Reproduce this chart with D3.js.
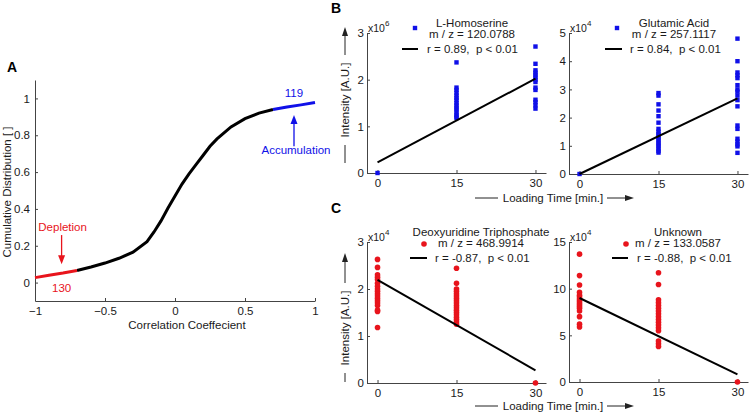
<!DOCTYPE html>
<html><head><meta charset="utf-8">
<script src="https://cdn.jsdelivr.net/npm/d3@7"></script>
<style>
body{margin:0;background:#fff;}
svg{display:block;font-family:"Liberation Sans",Arial,sans-serif;}
text{white-space:pre;}
</style></head>
<body><svg id="c" width="750" height="413"></svg>
<script>
// ---------- Panel A data ----------
const cdfX = [-1, -0.9, -0.8, -0.7, -0.6, -0.5, -0.4, -0.3, -0.2, -0.15, -0.1, -0.05, 0, 0.05, 0.1, 0.15, 0.2, 0.25, 0.3, 0.4, 0.5, 0.6, 0.7, 0.8, 0.9, 1.0];
const cdfY = [0.027, 0.04, 0.052, 0.066, 0.085, 0.106, 0.132, 0.165, 0.222, 0.275, 0.335, 0.405, 0.47, 0.535, 0.59, 0.64, 0.69, 0.74, 0.78, 0.845, 0.89, 0.92, 0.94, 0.953, 0.965, 0.978];
const depletionCut = -0.7, accumulationCut = 0.7;
const xTicksA = [-1, -0.5, 0, 0.5, 1];
const yTicksA = [0, 0.2, 0.4, 0.6, 0.8, 1];
const depletionCount = "130", accumulationCount = "119";

// ---------- Panels B/C data ----------
const timeTicks = [0, 15, 30];
const homoserineT15 = [2.37, 1.83, 1.78, 1.72, 1.66, 1.61, 1.56, 1.50, 1.45, 1.40, 1.36, 1.30, 1.25, 1.21, 1.18];
const homoserineT30 = [2.71, 2.34, 2.20, 2.15, 2.10, 2.05, 2.00, 1.95, 1.83, 1.78, 1.57, 1.52, 1.45, 1.38];
const homoserineT0 = [0];
const homoserineFit = [0.23, 2.02];

const glutamicT0 = [0];
const glutamicT15 = [2.87, 2.78, 2.47, 2.25, 2.05, 1.82, 1.60, 1.50, 1.42, 1.35, 1.28, 1.20, 1.12, 1.05, 0.98, 0.90, 0.82, 0.76];
const glutamicT30 = [4.80, 4.00, 3.60, 3.50, 3.40, 3.15, 3.00, 2.92, 2.78, 2.62, 2.40, 1.72, 1.60, 1.25, 1.15, 1.05, 0.98, 0.75];
const glutamicFit = [0, 2.68];

const dutpT0 = [2.63, 2.46, 2.30, 2.25, 2.20, 2.12, 2.06, 2.00, 1.95, 1.90, 1.85, 1.80, 1.75, 1.70, 1.65, 1.55, 1.52, 1.18];
const dutpT15 = [2.44, 2.12, 2.00, 1.95, 1.90, 1.85, 1.80, 1.75, 1.70, 1.65, 1.60, 1.55, 1.50, 1.45, 1.40, 1.35, 1.30, 1.25];
const dutpT30 = [0];
const dutpFit = [2.195, 0.27];

const unknownT0 = [13.7, 11.4, 10.4, 9.6, 9.3, 9.1, 8.9, 8.7, 8.5, 8.3, 8.1, 7.9, 7.6, 7.0, 6.2, 5.9];
const unknownT15 = [11.7, 10.45, 8.8, 8.5, 8.2, 7.9, 7.6, 7.3, 7.0, 6.7, 6.4, 6.1, 5.8, 5.5, 4.4, 4.1, 3.8];
const unknownT30 = [0];
const unknownFit = [9.0, 0.82];

const names = ["L-Homoserine", "Glutamic Acid", "Deoxyuridine Triphosphate", "Unknown"];
const mzLabels = ["m / z = 120.0788", "m / z = 257.1117", "m / z = 468.9914", "m / z = 133.0587"];
const statLabels = ["r = 0.89,  p < 0.01", "r = 0.84,  p < 0.01", "r = -0.87,  p < 0.01", "r = -0.88,  p < 0.01"];
const exponents = ["6", "4", "4", "4"];
const yMaxes = [3, 5, 3, 15];
const yTickSets = [[0,1,2,3],[0,1,2,3,4,5],[0,1,2,3],[0,5,10,15]];

const BLUE = "#1010e8", RED = "#e8141c", AXC = "#444";
const FS = 11.5;
const svg = d3.select("#c");

function styleAxis(g){
  g.selectAll(".domain").attr("stroke", AXC).attr("stroke-width",1);
  g.selectAll(".tick line").attr("stroke", AXC);
  g.selectAll(".tick text").attr("fill","#1a1a1a").style("font-size",FS+"px").style("font-family","Liberation Sans, Arial, sans-serif");
}
function arrowHead(g, x, y, dir, color, len=9, half=3.5){
  let pts;
  if(dir==="up") pts=[[x,y],[x-half,y+len],[x+half,y+len]];
  else if(dir==="down") pts=[[x,y],[x-half,y-len],[x+half,y-len]];
  else pts=[[x,y],[x-len,y-half],[x-len,y+half]];
  g.append("polygon").attr("points",pts.map(p=>p.join(",")).join(" ")).attr("fill",color);
}

// ---------- Panel A ----------
(function(){
  const L=35, R=315, T=80, B=301;
  const x=d3.scaleLinear().domain([-1,1]).range([L,R]);
  const y=d3.scaleLinear().domain([-0.1,1.1]).range([B,T]);
  const g=svg.append("g");
  g.append("g").attr("transform",`translate(0,${B})`)
    .call(d3.axisBottom(x).tickValues(xTicksA).tickFormat(d=>d===0?"0":String(d).replace("-","\u2212")).tickSizeInner(-3).tickSizeOuter(0).tickPadding(6))
    .call(styleAxis);
  g.append("g").attr("transform",`translate(${L},0)`)
    .call(d3.axisLeft(y).tickValues(yTicksA).tickFormat(d=>String(d)).tickSizeInner(-3).tickSizeOuter(0).tickPadding(5))
    .call(styleAxis);
  const pts=cdfX.map((v,i)=>[v,cdfY[i]]);
  const line=d3.line().x(d=>x(d[0])).y(d=>y(d[1]));
  const seg=(a,b)=>pts.filter(p=>p[0]>=a-1e-9&&p[0]<=b+1e-9);
  g.append("path").attr("d",line(seg(depletionCut,accumulationCut))).attr("fill","none").attr("stroke","#000").attr("stroke-width",3);
  g.append("path").attr("d",line(seg(-1,depletionCut))).attr("fill","none").attr("stroke",RED).attr("stroke-width",3);
  g.append("path").attr("d",line(seg(accumulationCut,1))).attr("fill","none").attr("stroke",BLUE).attr("stroke-width",3);
  const dx=x(-0.81);
  g.append("text").attr("x",dx+1).attr("y",y(0.3)+4).attr("text-anchor","middle").attr("fill",RED).style("font-size",FS+"px").text("Depletion");
  g.append("line").attr("x1",dx).attr("x2",dx).attr("y1",y(0.258)).attr("y2",y(0.12)).attr("stroke",RED).attr("stroke-width",1.3);
  arrowHead(g,dx,y(0.1),"down",RED);
  g.append("text").attr("x",dx).attr("y",y(-0.03)+4).attr("text-anchor","middle").attr("fill",RED).style("font-size",FS+"px").text(depletionCount);
  const ax=x(0.85);
  g.append("text").attr("x",ax).attr("y",y(1.03)+4).attr("text-anchor","middle").attr("fill",BLUE).style("font-size",FS+"px").text(accumulationCount);
  g.append("line").attr("x1",ax).attr("x2",ax).attr("y1",y(0.74)).attr("y2",y(0.89)).attr("stroke",BLUE).attr("stroke-width",1.3);
  arrowHead(g,ax,y(0.91),"up",BLUE);
  g.append("text").attr("x",ax+2).attr("y",y(0.72)+4).attr("text-anchor","middle").attr("fill",BLUE).style("font-size",FS+"px").text("Accumulation");
  g.append("text").attr("x",187).attr("y",329).attr("text-anchor","middle").attr("fill","#1a1a1a").style("font-size",FS+"px").text("Correlation Coeffecient");
  g.append("text").attr("transform","translate(11,192) rotate(-90)").attr("text-anchor","middle").attr("fill","#1a1a1a").style("font-size",FS+"px").text("Cumulative Distribution [ ]");
  g.append("text").attr("x",7).attr("y",72).attr("font-weight","bold").style("font-size","14px").text("A");
})();

// ---------- Panels B / C ----------
const subplots = [
  {left:367, top:33, bottom:173, t0:homoserineT0, t15:homoserineT15, t30:homoserineT30, fit:homoserineFit, color:BLUE, sym:"square",
   leg:{title:105, mark:48, line:[35,51], stat:60}},
  {left:569, top:33, bottom:174, t0:glutamicT0, t15:glutamicT15, t30:glutamicT30, fit:glutamicFit, color:BLUE, sym:"square",
   leg:{title:105, mark:48, line:[36,53], stat:61}},
  {left:367, top:242, bottom:383, t0:dutpT0, t15:dutpT15, t30:dutpT30, fit:dutpFit, color:RED, sym:"circle",
   leg:{title:114, mark:57, line:[43,60], stat:68}},
  {left:569, top:242, bottom:382, t0:unknownT0, t15:unknownT15, t30:unknownT30, fit:unknownFit, color:RED, sym:"circle",
   leg:{title:109, mark:57, line:[43,59], stat:68}}
];
subplots.forEach((s,i)=>{
  const W=179;
  const x=d3.scaleLinear().domain([-2,32]).range([s.left,s.left+W]);
  const y=d3.scaleLinear().domain([0,yMaxes[i]]).range([s.bottom,s.top]);
  const g=svg.append("g");
  g.append("g").attr("transform",`translate(0,${s.bottom})`)
    .call(d3.axisBottom(x).tickValues(timeTicks).tickFormat(d3.format("d")).tickSizeInner(-3).tickSizeOuter(0).tickPadding(6))
    .call(styleAxis);
  g.append("g").attr("transform",`translate(${s.left},0)`)
    .call(d3.axisLeft(y).tickValues(yTickSets[i]).tickFormat(d3.format("d")).tickSizeInner(-3).tickSizeOuter(0).tickPadding(3))
    .call(styleAxis);
  const et=g.append("text").attr("x",s.left+1).attr("y",s.top-1).attr("fill","#1a1a1a").style("font-size","10.5px");
  et.append("tspan").text("x10");
  et.append("tspan").attr("dy",-6).style("font-size","8px").text(exponents[i]);
  const pts=[].concat(s.t0.map(v=>[0,v]), s.t15.map(v=>[15,v]), s.t30.map(v=>[30,v]));
  if(s.sym==="square"){
    g.selectAll("rect.pt").data(pts).join("rect").attr("x",d=>x(d[0])-2.2).attr("y",d=>y(d[1])-2.2).attr("width",4.4).attr("height",4.4).attr("fill",s.color);
  } else {
    g.selectAll("circle.pt").data(pts).join("circle").attr("cx",d=>x(d[0])).attr("cy",d=>y(d[1])).attr("r",2.8).attr("fill",s.color);
  }
  g.append("line").attr("x1",x(0)).attr("y1",y(s.fit[0])).attr("x2",x(30)).attr("y2",y(s.fit[1])).attr("stroke","#000").attr("stroke-width",2);
  const lg=s.leg, L=s.left, T=s.top;
  g.append("text").attr("x",L+lg.title).attr("y",T-10+4).attr("text-anchor","middle").attr("fill","#1a1a1a").style("font-size",FS+"px").text(names[i]);
  g.append("text").attr("x",L+lg.title).attr("y",T+1+4).attr("text-anchor","middle").attr("fill","#1a1a1a").style("font-size",FS+"px").text(mzLabels[i]);
  if(s.sym==="square") g.append("rect").attr("x",L+lg.mark-2.2).attr("y",T-5-2.2).attr("width",4.4).attr("height",4.4).attr("fill",s.color);
  else g.append("circle").attr("cx",L+lg.mark).attr("cy",T+2).attr("r",2.8).attr("fill",s.color);
  g.append("line").attr("x1",L+lg.line[0]).attr("x2",L+lg.line[1]).attr("y1",T+16).attr("y2",T+16).attr("stroke","#000").attr("stroke-width",2);
  g.append("text").attr("x",L+lg.stat).attr("y",T+16+4).attr("fill","#1a1a1a").style("font-size",FS+"px").text(statLabels[i]);
});

function yTitle(cx, top, bottom, textMid){
  const g=svg.append("g");
  const half=42;
  g.append("line").attr("x1",cx).attr("x2",cx).attr("y1",bottom).attr("y2",textMid+half+3).attr("stroke","#222").attr("stroke-width",1);
  g.append("text").attr("transform",`translate(${cx+4},${textMid}) rotate(-90)`).attr("text-anchor","middle").attr("fill","#1a1a1a").style("font-size",FS+"px").text("Intensity [A.U.]");
  g.append("line").attr("x1",cx).attr("x2",cx).attr("y1",textMid-half-3).attr("y2",top+6).attr("stroke","#222").attr("stroke-width",1);
  arrowHead(g,cx,top,"up","#222",9,3);
}
function xTitle(base){
  const g=svg.append("g");
  g.append("line").attr("x1",475).attr("x2",498).attr("y1",base-4).attr("y2",base-4).attr("stroke","#222").attr("stroke-width",1);
  g.append("text").attr("x",553).attr("y",base).attr("text-anchor","middle").attr("fill","#1a1a1a").style("font-size",FS+"px").text("Loading Time [min.]");
  g.append("line").attr("x1",607).attr("x2",628).attr("y1",base-4).attr("y2",base-4).attr("stroke","#222").attr("stroke-width",1);
  arrowHead(g,634,base-4,"right","#222",9,3);
}
yTitle(345, 27, 163, 100);
yTitle(345, 253, 382, 328);
xTitle(202);
xTitle(410);
svg.append("text").attr("x",331).attr("y",13).attr("font-weight","bold").style("font-size","14px").text("B");
svg.append("text").attr("x",331).attr("y",213).attr("font-weight","bold").style("font-size","14px").text("C");
</script></body></html>
